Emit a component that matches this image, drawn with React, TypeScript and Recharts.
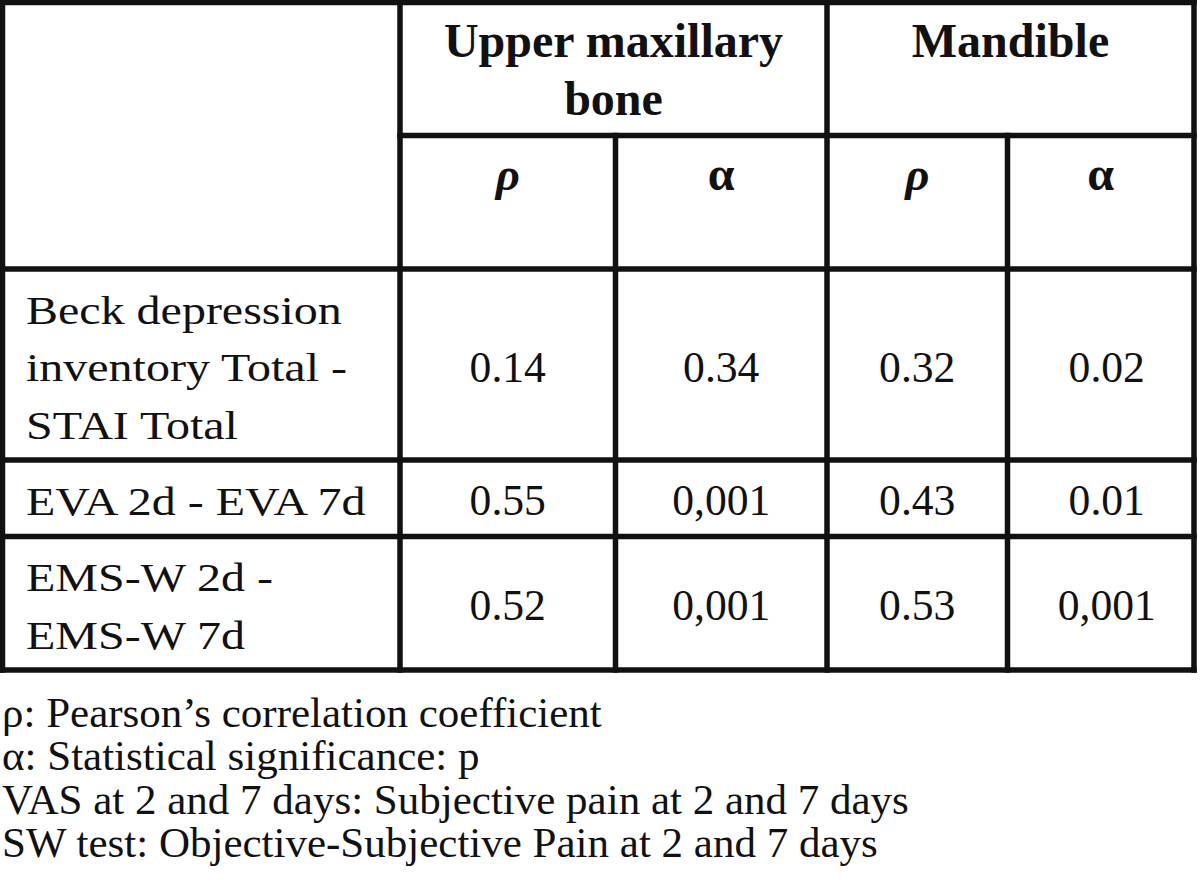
import React from "react";
import { ComposedChart, XAxis, YAxis, Scatter, ReferenceLine } from "recharts";

// table content
const groupLines = [["Upper maxillary", "bone"], ["Mandible"]];
const statSymbols = ["ρ", "α"];
const rowLabels = [
  ["Beck depression", "inventory Total -", "STAI Total"],
  ["EVA 2d - EVA 7d"],
  ["EMS-W 2d -", "EMS-W 7d"],
];
const upperRho = ["0.14", "0.55", "0.52"];
const upperAlpha = ["0.34", "0,001", "0,001"];
const mandibleRho = ["0.32", "0.43", "0.53"];
const mandibleAlpha = ["0.02", "0.01", "0,001"];
const footnotes = [
  "ρ: Pearson’s correlation coefficient",
  "α: Statistical significance: p",
  "VAS at 2 and 7 days: Subjective pain at 2 and 7 days",
  "SW test: Objective-Subjective Pain at 2 and 7 days",
];

// layout (grid lines in page pixels)
const W = 1200;
const H = 895;
const colX = [2.5, 400, 615.5, 827, 1007.5, 1194];
const rowY = [2.5, 135.5, 269, 460, 536.5, 670];
const FIRST_BASE = 54.5;
const LINE_H = 57.5;
const FONT = '"Liberation Serif", "Times New Roman", serif';
const INK = "#111";

type Mark = { x: number; y: number; text: string; kind: string; anchor: string };

const marks: Mark[] = [];
const mid = (a: number, b: number) => (a + b) / 2;

groupLines.forEach((lines, g) => {
  const cx = mid(colX[1 + 2 * g], colX[3 + 2 * g]);
  lines.forEach((t, i) =>
    marks.push({ x: cx, y: rowY[0] + FIRST_BASE + i * LINE_H, text: t, kind: "head", anchor: "middle" })
  );
});

groupLines.forEach((_, g) => {
  statSymbols.forEach((s, k) => {
    const col = 1 + 2 * g + k;
    marks.push({
      x: mid(colX[col], colX[col + 1]),
      y: rowY[1] + FIRST_BASE,
      text: s,
      kind: k === 0 ? "subItalic" : "sub",
      anchor: "middle",
    });
  });
});

rowLabels.forEach((lines, r) => {
  lines.forEach((t, i) =>
    marks.push({ x: 26, y: rowY[2 + r] + FIRST_BASE + i * LINE_H, text: t, kind: "label", anchor: "start" })
  );
});

[upperRho, upperAlpha, mandibleRho, mandibleAlpha].forEach((vals, c) => {
  vals.forEach((v, r) => {
    marks.push({
      x: mid(colX[1 + c], colX[2 + c]) + (c === 3 ? 6 : 0),
      y: mid(rowY[2 + r], rowY[3 + r]) + 17,
      text: v,
      kind: "value",
      anchor: "middle",
    });
  });
});

footnotes.forEach((t, i) => {
  marks.push({ x: 2, y: 727 + i * 43.3, text: t, kind: "foot", anchor: "start" });
});

const styles: Record<string, { size: number; weight: string; italic: boolean; sx: number }> = {
  head: { size: 48, weight: "bold", italic: false, sx: 1 },
  sub: { size: 48, weight: "bold", italic: false, sx: 1 },
  subItalic: { size: 47, weight: "bold", italic: true, sx: 1 },
  label: { size: 40, weight: "normal", italic: false, sx: 1.2 },
  value: { size: 45, weight: "normal", italic: false, sx: 0.97 },
  foot: { size: 43, weight: "normal", italic: false, sx: 1 },
};

const TextMark = (props: any) => {
  const { cx, cy, payload } = props;
  const st = styles[payload.kind];
  return (
    <text
      x={0}
      y={0}
      transform={`translate(${cx},${cy}) scale(${st.sx},1)`}
      textAnchor={payload.anchor}
      fontFamily={FONT}
      fontSize={st.size}
      fontWeight={st.weight}
      fontStyle={st.italic ? "italic" : "normal"}
      fill={INK}
    >
      {payload.text}
    </text>
  );
};

export default function App() {
  const xs = [colX[0], colX[colX.length - 1]];
  return (
    <div style={{ position: "absolute", left: 0, top: 0, width: W, height: H, background: "#fff" }}>
      <ComposedChart width={W} height={H} margin={{ top: 0, right: 0, bottom: 0, left: 0 }}>
        <XAxis type="number" dataKey="x" domain={[0, W]} hide />
        <YAxis type="number" dataKey="y" domain={[0, H]} reversed hide />

        {/* horizontal rules */}
        {rowY.map((y, i) => (
          <ReferenceLine
            key={`h${i}`}
            segment={[
              { x: i === 1 ? colX[1] : xs[0], y },
              { x: xs[1], y },
            ]}
            stroke={INK}
            strokeWidth={5.5}
            strokeLinecap="square"
            ifOverflow="visible"
          />
        ))}

        {/* vertical rules */}
        {colX.map((x, i) => (
          <ReferenceLine
            key={`v${i}`}
            segment={[
              { x, y: i === 2 || i === 4 ? rowY[1] : rowY[0] },
              { x, y: rowY[rowY.length - 1] },
            ]}
            stroke={INK}
            strokeWidth={5.5}
            strokeLinecap="square"
            ifOverflow="visible"
          />
        ))}

        <Scatter data={marks} shape={TextMark} isAnimationActive={false} />
      </ComposedChart>
    </div>
  );
}
